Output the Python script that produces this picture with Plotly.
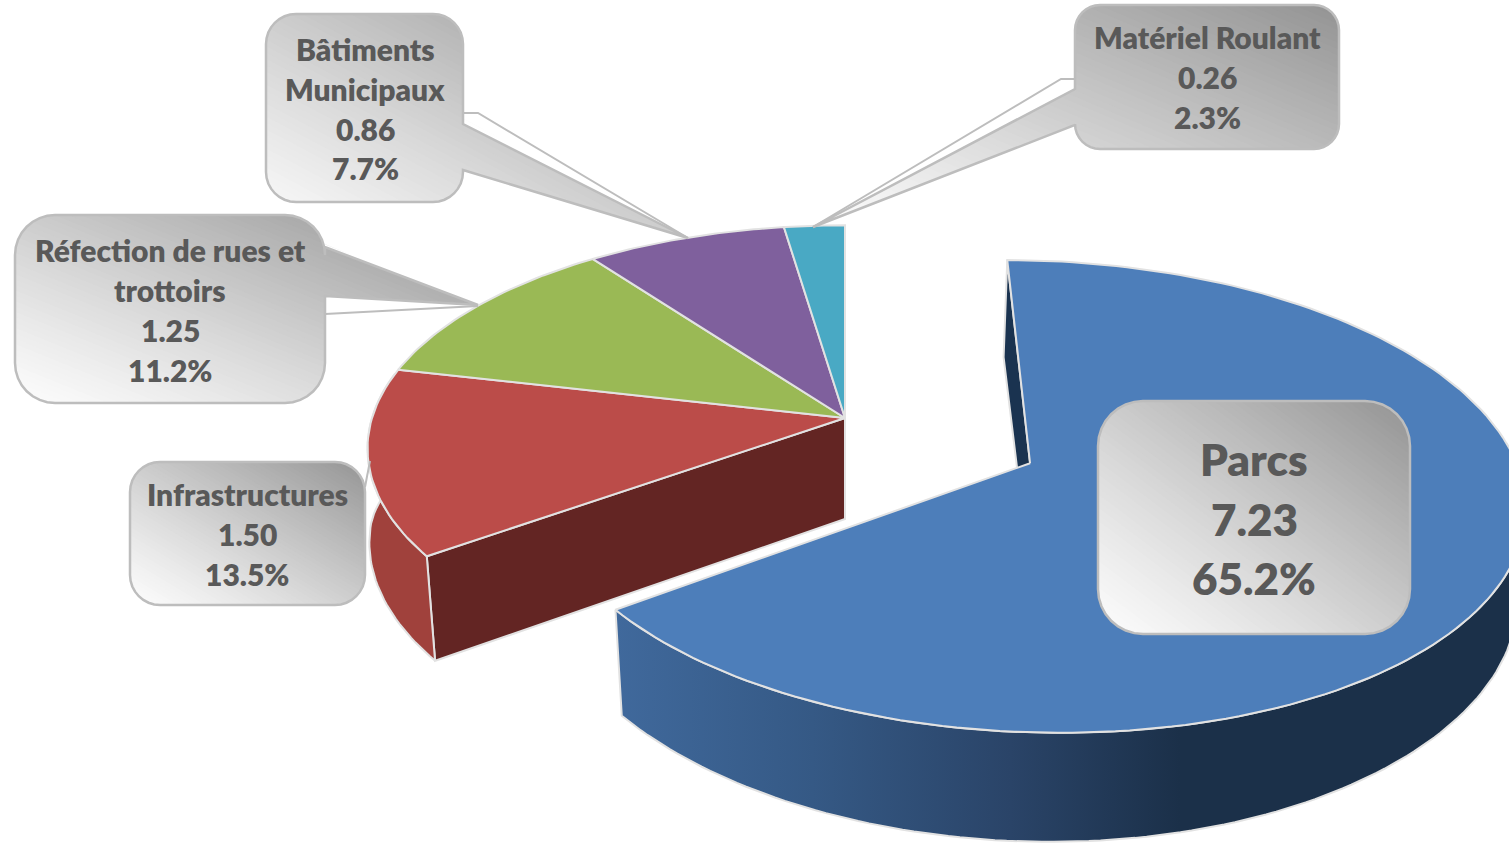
import math
import plotly.graph_objects as go

# ---- data ----
categories = ["Parcs", "Infrastructures", "Réfection de rues et trottoirs", "Bâtiments Municipaux", "Matériel Roulant"]
values = [7.23, 1.50, 1.25, 0.86, 0.26]
percent_labels = ["65.2%", "13.5%", "11.2%", "7.7%", "2.3%"]
label_names = [["Parcs"], ["Infrastructures"], ["Réfection de rues et", "trottoirs"], ["Bâtiments", "Municipaux"], ["Matériel Roulant"]]

# ---- style ----
top_colors = ["#4D7EBA", "#BB4C49", "#9AB955", "#7F609D", "#49A9C4"]
EDGE = "#E2E2E2"
TEXT = "#595959"
W, H = 1509, 844

# perspective model of the tilted pie
CX, CY = 845.0, 418.0
HORIZON = -1185.0
KP = 0.000289
R = 473.0
EXPLODE = (180.0, -95.0)


def project(theta, r, off=(0.0, 0.0)):
    wx = off[0] + r * math.sin(theta)
    wy = off[1] + r * math.cos(theta)
    w = 1.0 / (1.0 + KP * wy)
    return CX + wx * w, HORIZON + (CY - HORIZON) * w, w


def lower(p):
    x, y, w = p
    return CX + (x - CX) * (1 - 0.23 * abs(w - 1)), y + 60 + 41 * w


def arc(a0, a1, off, n=90, r=R):
    return [project(a0 + (a1 - a0) * i / n, r, off) for i in range(n + 1)]


total = sum(values)
edges = [0.0]
for v in values:
    edges.append(edges[-1] + v / total * 2 * math.pi)

fig = go.Figure()


def poly(xs, ys, fill, line=EDGE, width=2, gradient=None):
    kw = dict(x=xs, y=ys, mode="lines", fill="toself", line=dict(color=line, width=width),
              hoverinfo="skip", showlegend=False)
    if gradient:
        kw["fillgradient"] = gradient
    else:
        kw["fillcolor"] = fill
    fig.add_trace(go.Scatter(**kw))


# --- detached group: walls
red_end = edges[1]
center_g = project(0, 0)
outer_g = project(red_end, R)
poly([center_g[0], outer_g[0], lower(outer_g)[0], lower(center_g)[0], center_g[0]],
     [center_g[1], outer_g[1], lower(outer_g)[1], lower(center_g)[1], center_g[1]], "#632523")
a = arc(edges[1], math.radians(282), (0, 0), 40)
b = [lower(p) for p in a]
poly([p[0] for p in a] + [p[0] for p in b[::-1]] + [a[0][0]],
     [p[1] for p in a] + [p[1] for p in b[::-1]] + [a[0][1]], "#A0413C")

# --- detached group: top faces
for i in range(1, len(values)):
    a = arc(edges[i], edges[i + 1], (0, 0), 40)
    poly([center_g[0]] + [p[0] for p in a] + [center_g[0]],
         [center_g[1]] + [p[1] for p in a] + [center_g[1]], top_colors[i])

# --- exploded slice: inner radial wall
center_p = project(0, 0, EXPLODE)
start_p = project(edges[0], R, EXPLODE)
poly([center_p[0], start_p[0], lower(start_p)[0], lower(center_p)[0], center_p[0]],
     [center_p[1], start_p[1], lower(start_p)[1], lower(center_p)[1], center_p[1]], "#1A3350")

# --- exploded slice: outer wall with gradient
a = arc(edges[1], math.radians(85), EXPLODE, 120)
b = [lower(p) for p in a]
poly([p[0] for p in a] + [p[0] for p in b[::-1]] + [a[0][0]],
     [p[1] for p in a] + [p[1] for p in b[::-1]] + [a[0][1]], None,
     gradient=dict(type="horizontal", start=615, stop=1180,
                   colorscale=[[0, "#40699C"], [0.35, "#355985"], [0.7, "#2A4468"], [1, "#1B3049"]]))

# --- exploded slice: top face
a = arc(edges[0], edges[1], EXPLODE, 160)
poly([center_p[0]] + [p[0] for p in a] + [center_p[0]],
     [center_p[1]] + [p[1] for p in a] + [center_p[1]], top_colors[0])

# ---- callouts: box, optional pointer, optional leader line ----
callouts = [
    dict(box=(1098, 401, 1410, 634), r=45, side=None, wedge=None, leader=None, cx=1254,
         ys=[458.5, 518.5, 577.5], size=44, idx=0),
    dict(box=(130, 462, 365, 605), r=30, side=None, wedge=None, leader=[(365, 487), (370, 461)], cx=247,
         ys=[494, 534, 574], size=30, idx=1),
    dict(box=(15, 215, 325, 403), r=40, side="right", wedge=(247, 296, (478, 305)),
         leader=[(325, 314), (478, 306)], cx=170, ys=[250, 290, 330, 370], size=30, idx=2),
    dict(box=(266, 14, 463, 202), r=30, side="right", wedge=(124, 170, (688, 238)),
         leader=[(463, 113), (478, 113), (688, 238)], cx=365, ys=[49, 89, 129, 168], size=30, idx=3),
    dict(box=(1075, 5, 1339, 149), r=25, side="left", wedge=(89, 125, (813, 227)),
         leader=[(1075, 79), (1061, 79), (813, 227)], cx=1207, ys=[37, 77, 117], size=30, idx=4),
]

GRAD_LIGHT = (252, 252, 252)
GRAD_DARK = (146, 146, 146)
BORDER = "#BDBDBD"
STEPS = 70


def corner(cx, cy, r, a0, a1, n=8):
    return [(cx + r * math.cos(math.radians(a0 + (a1 - a0) * i / n)),
             cy + r * math.sin(math.radians(a0 + (a1 - a0) * i / n))) for i in range(n + 1)]


def outline(c):
    x0, y0, x1, y1 = c["box"]
    r = c["r"]
    pts = corner(x0 + r, y0 + r, r, 180, 270) + corner(x1 - r, y0 + r, r, 270, 360)
    if c["side"] == "right":
        ya, yb, tip = c["wedge"]
        pts += [(x1, ya), tip, (x1, yb)]
    pts += corner(x1 - r, y1 - r, r, 0, 90) + corner(x0 + r, y1 - r, r, 90, 180)
    if c["side"] == "left":
        ya, yb, tip = c["wedge"]
        pts += [(x0, yb), tip, (x0, ya)]
    return pts


def clip(pts, f):
    out = []
    for i, p in enumerate(pts):
        q = pts[(i + 1) % len(pts)]
        fp, fq = f(p), f(q)
        if fp >= 0:
            out.append(p)
        if (fp >= 0) != (fq >= 0):
            t = fp / (fp - fq)
            out.append((p[0] + (q[0] - p[0]) * t, p[1] + (q[1] - p[1]) * t))
    return out


def to_path(pts, close=True):
    s = "M " + " L ".join(f"{x:.2f} {y:.2f}" for x, y in pts)
    return s + (" Z" if close else "")


shapes = []
annotations = []
for c in callouts:
    pts = outline(c)
    extra = c["leader"] or []
    xs = [p[0] for p in pts] + [p[0] for p in extra]
    ys = [p[1] for p in pts] + [p[1] for p in extra]
    ex0, ey0, ex1, ey1 = min(xs), min(ys), max(xs), max(ys)
    if c["leader"]:
        shapes.append(dict(type="path", path=to_path(c["leader"], False), xref="x", yref="y", layer="above",
                           line=dict(color=BORDER, width=2)))
    for k in range(STEPS + 1):
        t = k / STEPS
        f = lambda p, s=2 * t: (p[0] - ex0) / (ex1 - ex0) + (ey1 - p[1]) / (ey1 - ey0) - s
        part = clip(pts, f)
        if len(part) < 3:
            continue
        tt = t ** 1.15
        col = tuple(round(GRAD_LIGHT[j] + (GRAD_DARK[j] - GRAD_LIGHT[j]) * tt) for j in range(3))
        shapes.append(dict(type="path", path=to_path(part), xref="x", yref="y", layer="above",
                           fillcolor=f"rgb{col}", line=dict(width=0)))
    shapes.append(dict(type="path", path=to_path(pts), xref="x", yref="y", layer="above",
                       line=dict(color=BORDER, width=2.5)))
    i = c["idx"]
    lines = label_names[i] + [f"{values[i]:.2f}", percent_labels[i]]
    for txt, yy in zip(lines, c["ys"]):
        annotations.append(dict(x=c["cx"], y=yy, xref="x", yref="y", text=txt, showarrow=False,
                                xanchor="center", yanchor="middle",
                                font=dict(family="Lato", size=c["size"], color=TEXT, weight=800)))

fig.update_layout(
    width=W, height=H, margin=dict(l=0, r=0, t=0, b=0, pad=0),
    paper_bgcolor="white", plot_bgcolor="white", showlegend=False,
    xaxis=dict(range=[0, W], visible=False, fixedrange=True),
    yaxis=dict(range=[H, 0], visible=False, fixedrange=True),
    shapes=shapes, annotations=annotations,
)
fig.write_html("out.html", config={"displayModeBar": False},
               post_script="document.body.style.margin='0';document.documentElement.style.overflow='hidden';")
